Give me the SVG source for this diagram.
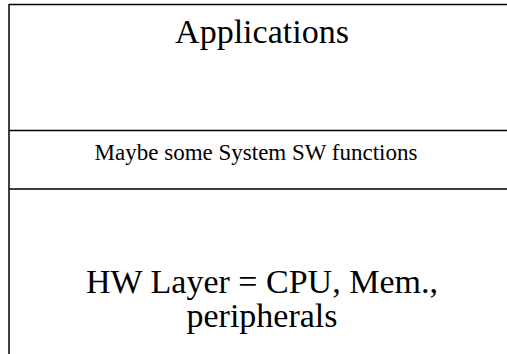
<svg xmlns="http://www.w3.org/2000/svg" width="507" height="354" viewBox="0 0 507 354">
<style>
.ln{stroke:#000;stroke-width:1.5;fill:none}
</style>
<rect width="507" height="354" fill="#fff"/>
<g id="frame">
<line class="ln" x1="9" y1="4.5" x2="507" y2="4.5"/>
<line class="ln" x1="9" y1="4" x2="9" y2="354"/>
</g>
<g font-family="'Liberation Serif', 'Times New Roman', serif" fill="#000" text-anchor="middle">
<g id="applications">
<text x="262" y="43" font-size="34">Applications</text>
</g>
<g id="system-sw">
<line class="ln" x1="9" y1="130.5" x2="507" y2="130.5"/>
<text x="256" y="160" font-size="23">Maybe some System SW functions</text>
</g>
<g id="hw-layer">
<line class="ln" x1="9" y1="189" x2="507" y2="189"/>
<text x="262" y="293" font-size="34">HW Layer = CPU, Mem.,</text>
<text x="262" y="327" font-size="34">peripherals</text>
</g>
</g>
<g id="connectors"></g>
</svg>
